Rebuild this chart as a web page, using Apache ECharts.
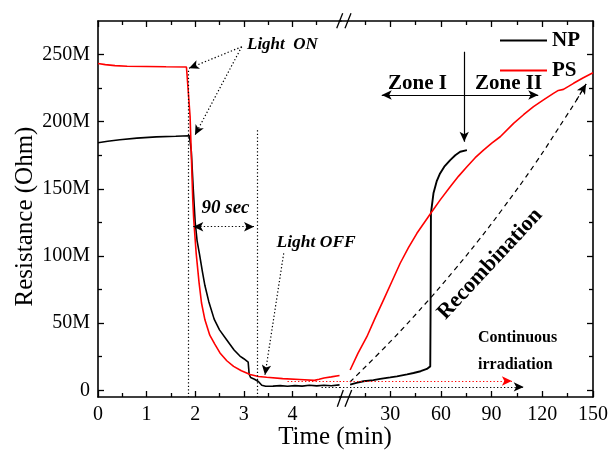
<!DOCTYPE html>
<html>
<head>
<meta charset="utf-8">
<script src="https://cdn.jsdelivr.net/npm/echarts@6/dist/echarts.min.js"></script>
<style>
  html, body { margin: 0; padding: 0; background: #fff; }
  #chart { width: 608px; height: 454px; }
</style>
</head>
<body>
<div id="chart"></div>
<script>
// Resistance in megaohms (M), time in minutes.
// Short window: first 5 minutes (light switched on ~1.9 min, off ~3.3 min).
const npShort = [
  [0, 184.3], [0.2, 185.4], [0.45, 186.6], [0.8, 187.8], [1.2, 188.7], [1.6, 189.2],
  [1.88, 189.6], [1.92, 178], [1.96, 150], [2.0, 125], [2.04, 111], [2.09, 101],
  [2.15, 88], [2.2, 78], [2.28, 66], [2.39, 53], [2.5, 45], [2.65, 37.5], [2.8, 30],
  [2.92, 25.5], [3.0, 23.5], [3.09, 21], [3.11, 12], [3.14, 9.5], [3.22, 8.2],
  [3.3, 6.5], [3.37, 3.8], [3.45, 3.0], [3.6, 3.1], [3.75, 3.5], [3.9, 3.0],
  [4.05, 3.5], [4.2, 3.1], [4.35, 3.7], [4.5, 3.3], [4.65, 3.8], [4.8, 3.4], [4.97, 4.0]
];
const psShort = [
  [0, 243.3], [0.15, 242.5], [0.35, 241.8], [0.6, 241.3], [1.0, 241.1], [1.4, 240.9],
  [1.82, 240.7], [1.85, 226], [1.895, 203.6], [1.95, 141.7], [1.97, 127], [2.02, 102],
  [2.08, 80], [2.13, 65], [2.2, 52.5], [2.3, 41], [2.4, 34.5], [2.51, 27.8], [2.65, 22],
  [2.79, 17.8], [2.95, 14.5], [3.13, 11.7], [3.3, 10.3], [3.47, 9.7], [3.8, 8.7],
  [4.15, 8.0], [4.45, 7.4], [4.55, 8.2], [4.65, 9.2], [4.8, 10], [4.97, 11]
];
// Long window: recovery in the dark, 0-150 min.
const npLong = [
  [6.3, 4.2], [10, 5.5], [14.2, 6.7], [20, 7.6], [24.1, 8.5], [30, 9.6], [34, 10.4],
  [40, 11.8], [43.8, 12.9], [48, 14.2], [51.7, 15.9], [53.7, 17.8], [53.9, 60],
  [54.1, 131.8], [55.6, 146.7], [57.6, 156], [59.5, 161.5], [62, 166.5], [65.5, 171.4],
  [68.5, 175], [71.4, 177.6], [75.4, 178.8]
];
const psLong = [
  [6.3, 15.1], [10.9, 27.5], [16.2, 39.9], [21, 53.5], [26, 67.2], [31, 81], [35.9, 94.6],
  [40.8, 106.3], [45.8, 116.9], [53.7, 131.3], [59.6, 141.8], [65.5, 151.6], [70.5, 159.5],
  [75.4, 166.5], [80.3, 173.2], [85.2, 178.9], [90.1, 184], [95.1, 188.8], [103, 198.8],
  [108.9, 205.2], [114.8, 211.2], [120.7, 216.3], [126.6, 221.1], [129.5, 223.3],
  [132.5, 224.1], [135.5, 226.3], [138.5, 228.6], [144, 232.6], [150, 236.5]
];
// Guide curve for the recombination trend (dashed arrow)
const recombinationPath = [
  [6.2, 6.2], [30.2, 36.4], [53.1, 67.7], [67.8, 89.3], [82.0, 111.2],
  [95.7, 133.7], [115.4, 168.1], [134.0, 203.8], [140.1, 215.8], [145.9, 228.1]
];

// Tick positions
const shortTicks = [0, 1, 2, 3, 4];
const shortMinorTicks = [0.5, 1.5, 2.5, 3.5, 4.5];
const longTicks = [30, 60, 90, 120, 150];
const longMinorTicks = [15, 45, 75, 105, 135];
const resistanceTicks = [0, 50, 100, 150, 200, 250];
const resistanceMinorTicks = [25, 75, 125, 175, 225];

const FONT = 'Liberation Serif';
const BLACK = '#000000';
const RED = '#ff0000';

function axis(cfg) {
  const major = !cfg.minor;
  return {
    type: 'value',
    gridIndex: cfg.grid,
    position: cfg.position,
    min: cfg.min,
    max: cfg.max,
    axisLine: { show: major, onZero: false, lineStyle: { color: BLACK, width: 1.6 } },
    axisTick: {
      show: true, inside: true, length: major ? 6 : 4,
      customValues: cfg.ticks,
      lineStyle: { color: BLACK, width: 1.3 }
    },
    axisLabel: cfg.labels ? {
      show: true, customValues: cfg.labels, margin: 8,
      color: BLACK, fontFamily: FONT, fontSize: 20,
      formatter: cfg.format
    } : { show: false },
    splitLine: { show: false },
    minorTick: { show: false }
  };
}

const megaFormat = v => (v === 0 ? '0' : v + 'M');

const xAxes = [
  axis({ grid: 0, position: 'bottom', min: 0, max: 5, ticks: shortTicks, labels: shortTicks }),
  axis({ grid: 0, position: 'bottom', min: 0, max: 5, ticks: shortMinorTicks, minor: true }),
  axis({ grid: 0, position: 'top', min: 0, max: 5, ticks: shortTicks }),
  axis({ grid: 0, position: 'top', min: 0, max: 5, ticks: shortMinorTicks, minor: true }),
  axis({ grid: 1, position: 'bottom', min: 0, max: 150, ticks: longTicks, labels: longTicks }),
  axis({ grid: 1, position: 'bottom', min: 0, max: 150, ticks: longMinorTicks, minor: true }),
  axis({ grid: 1, position: 'top', min: 0, max: 150, ticks: longTicks }),
  axis({ grid: 1, position: 'top', min: 0, max: 150, ticks: longMinorTicks, minor: true })
];
const yAxes = [
  axis({ grid: 0, position: 'left', min: -5, max: 275, ticks: resistanceTicks, labels: resistanceTicks, format: megaFormat }),
  axis({ grid: 0, position: 'left', min: -5, max: 275, ticks: resistanceMinorTicks, minor: true }),
  axis({ grid: 1, position: 'right', min: -5, max: 275, ticks: resistanceTicks }),
  axis({ grid: 1, position: 'right', min: -5, max: 275, ticks: resistanceMinorTicks, minor: true })
];

function curve(name, data, color, xi, yi, width) {
  return {
    type: 'line', name, data, xAxisIndex: xi, yAxisIndex: yi,
    showSymbol: false, symbol: 'none', smooth: false,
    itemStyle: { color },
    lineStyle: { color, width: width || 1.6 },
    emphasis: { disabled: true }, z: 3
  };
}

const DOT = [1.3, 2.2];
function seg(p1, p2, color, type, startSym, endSym, width) {
  const ls = { color, type, width: width || 1.2 };
  return [
    { coord: p1, symbol: startSym || 'none', symbolSize: [7, 10], lineStyle: ls, itemStyle: { color } },
    { coord: p2, symbol: endSym || 'none', symbolSize: [7, 10], lineStyle: ls, itemStyle: { color } }
  ];
}

function notes(name, xi, yi, data) {
  return {
    type: 'line', name, data: [], xAxisIndex: xi, yAxisIndex: yi, silent: true,
    markLine: {
      silent: true, animation: false, label: { show: false },
      emphasis: { disabled: true }, data
    }
  };
}

const last = recombinationPath.length - 1;
const shortNotes = notes('short notes', 0, 0, [
  seg([1.858, 238], [1.858, -5], BLACK, DOT),
  seg([3.278, 193.6], [3.278, -5], BLACK, DOT),
  seg([1.961, 121.8], [3.21, 121.8], BLACK, DOT, 'arrow', 'arrow'),
  seg([2.957, 255.8], [1.872, 239.8], BLACK, DOT, 'none', 'arrow'),
  seg([2.957, 255.8], [1.996, 190.1], BLACK, DOT, 'none', 'arrow'),
  seg([3.821, 102], [3.436, 11.4], BLACK, DOT, 'none', 'arrow'),
  seg([3.9, 6.9], [5, 6.9], RED, DOT),
  seg([4.6, 2.5], [5, 2.5], BLACK, DOT)
]);
const longNotes = notes('long notes', 4, 2, [
  seg([0, 6.9], [102, 6.9], RED, DOT, 'none', 'arrow'),
  seg([0, 2.5], [109, 2.5], BLACK, DOT, 'none', 'arrow'),
  seg([25, 219.9], [117.6, 219.9], BLACK, 'solid', 'arrow', 'arrow', 1.2),
  seg([73.8, 252.1], [73.8, 185.1], BLACK, 'solid', 'none', 'arrow', 1.2),
  seg(recombinationPath[last - 1], recombinationPath[last], BLACK, [5, 4], 'none', 'arrow', 1.2)
]);

const recombinationCurve = {
  type: 'line', name: 'recombination', data: recombinationPath, xAxisIndex: 4, yAxisIndex: 2,
  silent: true, showSymbol: false, symbol: 'none', smooth: 0.4,
  lineStyle: { color: BLACK, width: 1.2, type: [5, 4] },
  emphasis: { disabled: true }, z: 2
};

function label(text, x, y, size, extra) {
  return Object.assign({
    type: 'text', x, y, silent: true,
    style: Object.assign({
      text, fill: BLACK, fontFamily: FONT, fontSize: size, fontWeight: 'bold',
      align: 'left', verticalAlign: 'middle'
    }, extra && extra.style)
  }, extra && extra.el);
}

function breakMark(x1, y1, x2, y2) {
  return { type: 'line', silent: true, shape: { x1, y1, x2, y2 }, style: { stroke: BLACK, lineWidth: 1.3 } };
}

const graphics = [
  label('Light  ON', 247, 45, 17, { style: { fontStyle: 'italic' } }),
  label('90 sec', 201.5, 208.5, 19, { style: { fontStyle: 'italic' } }),
  label('Light OFF', 276.5, 242, 17.5, { style: { fontStyle: 'italic' } }),
  label('Zone I', 388, 83.5, 21),
  label('Zone II', 475, 83.5, 21),
  label('Continuous', 478, 338, 16),
  label('irradiation', 478, 364.5, 16),
  label('Recombination', 490, 264, 22, { style: { align: 'center' }, el: { rotation: 47 * Math.PI / 180 } }),
  label('Resistance (Ohm)', 25, 216.5, 25, { style: { align: 'center', fontWeight: 'normal' }, el: { rotation: Math.PI / 2 } }),
  label('Time (min)', 335, 437, 25, { style: { align: 'center', fontWeight: 'normal' } }),
  // axis break marks
  breakMark(336.7, 28.3, 342.7, 13.3),
  breakMark(345, 28.3, 351, 13.3),
  breakMark(337.3, 406.7, 343.3, 390),
  breakMark(345, 406.7, 351.7, 390)
];

const chart = echarts.init(document.getElementById('chart'), null, { renderer: 'canvas' });
chart.setOption({
  animation: false,
  backgroundColor: '#ffffff',
  grid: [
    { left: 98, right: 267, top: 21, bottom: 57, outerBoundsMode: 'none', containLabel: false },
    { left: 339.5, right: 15, top: 21, bottom: 57, outerBoundsMode: 'none', containLabel: false }
  ],
  xAxis: xAxes,
  yAxis: yAxes,
  legend: {
    data: ['NP', 'PS'], orient: 'vertical', left: 495, top: 25,
    itemWidth: 47, itemHeight: 2, itemGap: 9, icon: 'rect', selectedMode: false,
    textStyle: { fontFamily: FONT, fontSize: 21, fontWeight: 'bold', color: BLACK }
  },
  series: [
    curve('NP', npShort, BLACK, 0, 0),
    curve('PS', psShort, RED, 0, 0),
    curve('NP', npLong, BLACK, 4, 2, 1.9),
    curve('PS', psLong, RED, 4, 2),
    recombinationCurve,
    shortNotes,
    longNotes
  ],
  graphic: graphics
});
</script>
</body>
</html>
